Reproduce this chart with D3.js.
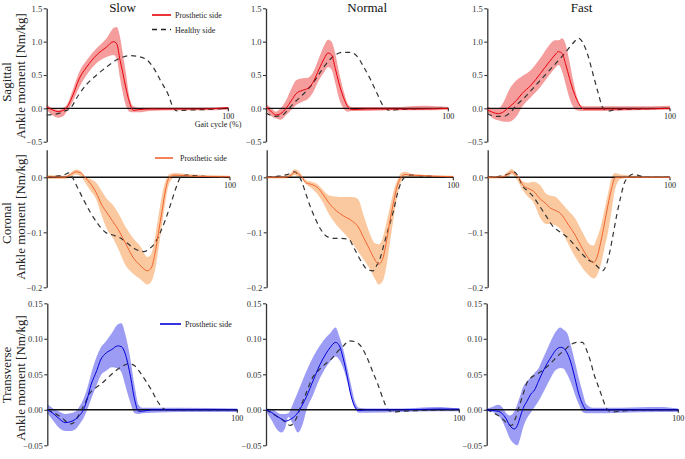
<!DOCTYPE html>
<html><head><meta charset="utf-8">
<script src="https://cdn.jsdelivr.net/npm/d3@7"></script>
<style>body{margin:0;background:#fff}svg{display:block}text{font-family:"Liberation Serif","Times New Roman",serif}</style>
</head><body><svg id="c" width="685" height="459"></svg>
<script>
// ---------- labels ----------
const speeds = ["Slow", "Normal", "Fast"];
const planes = ["Sagittal", "Coronal", "Transverse"];
const yLabel = "Ankle moment [Nm/kg]";
const ticksSag = [1.5, 1.0, 0.5, 0.0, -0.5];
const ticksCor = [0.0, -0.1, -0.2];
const ticksTra = [0.15, 0.10, 0.05, 0.00, -0.05];

// ---------- Sagittal / Slow ----------
const sagSlowX    = [0, 3, 6.5, 9, 11, 14, 18, 22, 27.5, 33, 36.7, 38.5, 40.4, 42, 43.5, 45.5, 47.7, 50.5, 57, 70, 85, 100];
const sagSlowMean = [0.02, -0.02, -0.05, -0.03, 0.01, 0.17, 0.45, 0.62, 0.80, 0.92, 1.0, 0.97, 0.72, 0.52, 0.32, 0.10, -0.03, -0.02, -0.01, -0.01, -0.01, 0.01];
const sagSlowHi   = [0.06, 0.0, -0.02, 0.01, 0.05, 0.25, 0.55, 0.72, 0.90, 1.05, 1.2, 1.22, 1.07, 0.8, 0.55, 0.18, 0.03, 0.01, 0.01, 0.01, 0.01, 0.02];
const sagSlowLo   = [-0.02, -0.1, -0.14, -0.12, -0.05, 0.08, 0.32, 0.5, 0.68, 0.77, 0.8, 0.75, 0.45, 0.22, 0.05, -0.05, -0.06, -0.06, -0.04, -0.03, -0.03, -0.02];
const sagSlowHX   = [0, 6, 10, 13, 17.5, 22, 27.5, 33, 38, 42, 46, 50, 55, 59, 63, 67, 69.5, 72, 75, 85, 100];
const sagSlowH    = [-0.1, -0.08, -0.04, 0.0, 0.2, 0.36, 0.5, 0.62, 0.72, 0.77, 0.79, 0.78, 0.73, 0.6, 0.4, 0.2, 0.02, -0.04, -0.03, -0.02, 0.0];

// ---------- Sagittal / Normal ----------
const sagNormX    = [0, 3, 5.3, 8, 11, 14, 16.5, 20, 23, 26, 29, 32, 34, 36, 38, 40, 43, 45, 47, 55, 70, 85, 100];
const sagNormMean = [0.02, -0.05, -0.1, -0.08, 0.0, 0.12, 0.22, 0.27, 0.3, 0.4, 0.58, 0.75, 0.83, 0.8, 0.6, 0.38, 0.13, 0.02, -0.02, -0.01, -0.01, -0.01, 0.0];
const sagNormHi   = [0.07, 0.0, -0.05, 0.0, 0.12, 0.3, 0.42, 0.45, 0.46, 0.55, 0.75, 0.95, 1.03, 1.0, 0.82, 0.55, 0.22, 0.06, 0.02, 0.02, 0.02, 0.04, 0.02];
const sagNormLo   = [-0.03, -0.12, -0.15, -0.17, -0.1, -0.02, 0.05, 0.1, 0.14, 0.25, 0.42, 0.55, 0.62, 0.58, 0.38, 0.15, -0.02, -0.05, -0.04, -0.04, -0.03, -0.03, -0.02];
const sagNormHX   = [0, 5, 9, 12, 15, 20, 25, 30, 34, 38, 42, 46, 50, 53, 57, 61, 64, 65.5, 68, 72, 80, 100];
const sagNormH    = [-0.07, -0.12, -0.1, -0.02, 0.07, 0.2, 0.35, 0.55, 0.7, 0.8, 0.84, 0.84, 0.78, 0.65, 0.45, 0.22, 0.05, 0.0, -0.03, -0.02, -0.01, 0.0];

// ---------- Sagittal / Fast ----------
const sagFastX    = [0, 3, 6, 9, 12, 16, 19, 24, 29, 34, 37, 39, 41, 43, 45, 47, 49, 51, 53, 60, 80, 100];
const sagFastMean = [-0.02, -0.06, -0.08, -0.05, 0.02, 0.12, 0.22, 0.35, 0.52, 0.7, 0.8, 0.85, 0.82, 0.65, 0.45, 0.27, 0.13, 0.03, -0.01, -0.01, -0.01, 0.0];
const sagFastHi   = [0.03, 0.0, 0.0, 0.1, 0.28, 0.42, 0.48, 0.58, 0.75, 0.95, 1.02, 1.02, 1.05, 0.95, 0.7, 0.42, 0.18, 0.05, 0.03, 0.03, 0.03, 0.04];
const sagFastLo   = [-0.05, -0.15, -0.18, -0.2, -0.2, -0.12, 0.02, 0.17, 0.32, 0.5, 0.6, 0.65, 0.55, 0.35, 0.15, 0.02, -0.03, -0.04, -0.04, -0.04, -0.03, -0.02];
const sagFastHX   = [0, 5, 9, 13, 16, 20, 25, 30, 35, 40, 44, 47, 50, 52, 55, 58, 61, 63, 66, 70, 80, 100];
const sagFastH    = [-0.08, -0.12, -0.12, -0.05, 0.05, 0.15, 0.3, 0.45, 0.6, 0.75, 0.88, 0.98, 1.05, 1.0, 0.8, 0.5, 0.2, 0.02, -0.04, -0.02, -0.01, 0.0];

// ---------- Coronal / Slow ----------
const corSlowX    = [0, 10, 13, 16, 19, 21, 24, 27, 30, 33, 36, 39, 43, 47, 51, 55, 57, 59, 61, 63, 65, 67, 70, 80, 100];
const corSlowMean = [0.001, 0.0, 0.005, 0.01, 0.007, 0.0, -0.012, -0.028, -0.05, -0.065, -0.08, -0.095, -0.12, -0.145, -0.16, -0.17, -0.165, -0.14, -0.1, -0.06, -0.02, 0.0, 0.004, 0.002, 0.001];
const corSlowHi   = [0.004, 0.003, 0.008, 0.014, 0.01, 0.0, -0.003, -0.01, -0.025, -0.04, -0.05, -0.065, -0.09, -0.11, -0.125, -0.145, -0.14, -0.11, -0.07, -0.03, -0.005, 0.006, 0.008, 0.005, 0.003];
const corSlowLo   = [-0.003, -0.003, 0.0, 0.005, 0.0, -0.01, -0.025, -0.04, -0.07, -0.095, -0.11, -0.13, -0.16, -0.175, -0.185, -0.195, -0.19, -0.17, -0.13, -0.085, -0.04, -0.01, 0.0, 0.0, -0.002];
const corSlowHX   = [0, 5, 10, 12, 14, 17, 20, 24, 28, 32, 36, 40, 44, 48, 53, 56, 59, 62, 65, 68, 71, 73, 76, 80, 90, 100];
const corSlowH    = [0.0, 0.002, 0.005, 0.008, 0.0, -0.02, -0.04, -0.065, -0.085, -0.1, -0.105, -0.11, -0.12, -0.13, -0.135, -0.13, -0.12, -0.1, -0.075, -0.045, -0.015, 0.0, 0.004, 0.003, 0.001, 0.0];

// ---------- Coronal / Normal ----------
const corNormX    = [0, 10, 13, 15, 17, 19, 21, 24, 27, 30, 33, 37, 41, 46, 49, 52, 55, 58, 60, 62, 64, 66, 68, 70, 72, 74, 78, 100];
const corNormMean = [0.0, 0.0, 0.004, 0.009, 0.006, 0.0, -0.01, -0.013, -0.018, -0.03, -0.045, -0.06, -0.07, -0.08, -0.09, -0.11, -0.13, -0.15, -0.158, -0.15, -0.12, -0.08, -0.045, -0.015, 0.0, 0.005, 0.004, 0.001];
const corNormHi   = [0.002, 0.003, 0.008, 0.015, 0.012, 0.003, -0.005, -0.008, -0.012, -0.022, -0.032, -0.035, -0.036, -0.036, -0.04, -0.07, -0.1, -0.12, -0.122, -0.112, -0.085, -0.055, -0.025, -0.005, 0.008, 0.01, 0.006, 0.003];
const corNormLo   = [-0.002, -0.002, 0.0, 0.004, 0.0, -0.004, -0.012, -0.02, -0.03, -0.045, -0.065, -0.085, -0.1, -0.12, -0.135, -0.15, -0.165, -0.185, -0.195, -0.19, -0.165, -0.12, -0.075, -0.035, -0.008, 0.0, 0.0, -0.001];
const corNormHX   = [0, 6, 11, 15, 17, 19, 21, 23, 26, 29, 32, 36, 40, 44, 47, 51, 54, 57, 59, 61, 63, 65.5, 68, 70, 72, 74, 77, 82, 100];
const corNormH    = [0.0, 0.002, 0.005, 0.01, 0.004, -0.01, -0.03, -0.05, -0.075, -0.095, -0.107, -0.111, -0.111, -0.113, -0.13, -0.155, -0.168, -0.17, -0.16, -0.145, -0.12, -0.09, -0.06, -0.03, -0.01, 0.0, 0.004, 0.003, 0.0];

// ---------- Coronal / Fast ----------
const corFastX    = [0, 8, 11, 13, 15, 17, 19.5, 22, 25, 29, 32, 34, 37, 40, 44, 48, 52, 56, 58, 60, 62, 64, 66, 68, 70, 73, 80, 100];
const corFastMean = [0.0, 0.001, 0.005, 0.01, 0.006, 0.0, -0.015, -0.02, -0.025, -0.04, -0.048, -0.055, -0.06, -0.066, -0.085, -0.105, -0.13, -0.15, -0.155, -0.145, -0.118, -0.085, -0.05, -0.02, 0.0, 0.0, 0.0, 0.0];
const corFastHi   = [0.002, 0.003, 0.01, 0.015, 0.01, 0.0, -0.008, -0.01, -0.008, -0.015, -0.03, -0.033, -0.035, -0.045, -0.06, -0.075, -0.1, -0.122, -0.124, -0.11, -0.09, -0.06, -0.03, 0.0, 0.008, 0.005, 0.003, 0.002];
const corFastLo   = [-0.002, -0.002, 0.0, 0.005, 0.0, -0.01, -0.025, -0.035, -0.045, -0.075, -0.085, -0.085, -0.087, -0.095, -0.12, -0.145, -0.165, -0.18, -0.184, -0.178, -0.16, -0.13, -0.1, -0.06, -0.02, -0.003, 0.0, -0.001];
const corFastHX   = [0, 7, 12, 14.5, 17, 19, 22, 25, 28, 32, 36, 40, 44, 48, 52, 55, 58, 61, 63, 65, 67, 69, 71, 73, 75, 77, 80, 83, 88, 100];
const corFastH    = [0.0, 0.002, 0.007, 0.01, 0.0, -0.015, -0.025, -0.035, -0.05, -0.07, -0.09, -0.1, -0.11, -0.125, -0.14, -0.15, -0.155, -0.165, -0.17, -0.16, -0.135, -0.1, -0.065, -0.035, -0.01, 0.0, 0.006, 0.003, 0.0, 0.0];

// ---------- Transverse / Slow ----------
const traSlowX    = [0, 3, 6, 9.5, 12, 15, 17, 19, 21, 23, 26, 28, 31, 34, 37, 39, 41, 43.5, 46, 48, 50, 55, 70, 100];
const traSlowMean = [0.0, -0.005, -0.012, -0.018, -0.017, -0.013, -0.008, 0.0, 0.015, 0.035, 0.055, 0.07, 0.08, 0.085, 0.09, 0.089, 0.079, 0.051, 0.014, -0.002, -0.002, 0.0, 0.0, 0.0];
const traSlowHi   = [0.008, 0.002, -0.002, -0.006, -0.005, -0.002, 0.005, 0.015, 0.03, 0.05, 0.075, 0.087, 0.097, 0.108, 0.12, 0.122, 0.107, 0.075, 0.033, 0.007, 0.003, 0.003, 0.003, 0.002];
const traSlowLo   = [-0.005, -0.015, -0.025, -0.03, -0.03, -0.027, -0.02, -0.012, 0.0, 0.015, 0.035, 0.048, 0.055, 0.06, 0.058, 0.053, 0.035, 0.012, -0.005, -0.006, -0.005, -0.004, -0.003, -0.003];
const traSlowHX   = [0, 4, 8, 12, 14, 16, 18, 20, 22, 25, 29, 33, 37, 40, 43, 46, 49, 52, 55, 58, 61, 63, 70, 100];
const traSlowH    = [0.0, -0.005, -0.012, -0.02, -0.018, -0.01, 0.0, 0.01, 0.022, 0.03, 0.038, 0.048, 0.057, 0.062, 0.065, 0.062, 0.052, 0.04, 0.027, 0.012, 0.002, 0.0, 0.0, 0.0];

// ---------- Transverse / Normal ----------
const traNormX    = [0, 3, 5.5, 8, 10, 11.5, 14, 16.5, 19, 21, 24.5, 28, 31, 33, 36, 38, 40, 42, 44, 46, 48, 52, 70, 88, 100];
const traNormMean = [0.0, -0.004, -0.009, -0.013, -0.016, -0.015, -0.011, -0.004, 0.008, 0.019, 0.042, 0.064, 0.079, 0.087, 0.095, 0.09, 0.072, 0.047, 0.02, 0.004, -0.001, 0.0, 0.0, 0.001, 0.001];
const traNormHi   = [0.002, 0.001, -0.003, -0.006, -0.006, -0.005, 0.009, 0.025, 0.042, 0.055, 0.075, 0.091, 0.102, 0.107, 0.116, 0.103, 0.085, 0.06, 0.035, 0.012, 0.003, 0.002, 0.002, 0.004, 0.002];
const traNormLo   = [-0.002, -0.015, -0.027, -0.032, -0.025, -0.01, -0.02, -0.032, -0.02, 0.0, 0.022, 0.045, 0.06, 0.067, 0.075, 0.07, 0.058, 0.04, 0.018, 0.002, -0.004, -0.004, -0.003, -0.002, -0.002];
const traNormHX   = [0, 5, 9, 12.5, 14.5, 16, 18, 21, 24, 27, 30, 34, 37, 40, 43, 46, 49, 52, 55, 58, 61, 63, 66, 70, 80, 100];
const traNormH    = [0.0, -0.008, -0.015, -0.022, -0.018, -0.01, 0.005, 0.025, 0.045, 0.055, 0.063, 0.072, 0.082, 0.09, 0.097, 0.096, 0.09, 0.075, 0.055, 0.035, 0.012, 0.0, -0.003, -0.002, -0.001, 0.0];

// ---------- Transverse / Fast ----------
const traFastX    = [0, 3, 6, 8, 10, 12, 14.5, 16, 17.5, 19, 21, 23, 25, 27, 29, 31.5, 34, 36, 38.5, 40, 42, 44, 46, 48, 50, 52, 55, 70, 90, 100];
const traFastMean = [0.0, -0.001, -0.002, -0.005, -0.012, -0.022, -0.027, -0.022, -0.01, 0.002, 0.012, 0.022, 0.028, 0.04, 0.052, 0.065, 0.076, 0.084, 0.088, 0.087, 0.08, 0.066, 0.045, 0.023, 0.008, 0.0, 0.0, 0.0, 0.0, 0.0];
const traFastHi   = [0.002, 0.004, 0.007, 0.004, -0.004, -0.008, -0.002, 0.008, 0.02, 0.032, 0.04, 0.046, 0.052, 0.058, 0.07, 0.085, 0.1, 0.11, 0.116, 0.113, 0.108, 0.09, 0.068, 0.045, 0.025, 0.008, 0.003, 0.003, 0.004, 0.002];
const traFastLo   = [-0.002, -0.003, -0.008, -0.015, -0.027, -0.04, -0.048, -0.05, -0.04, -0.025, -0.012, -0.004, 0.004, 0.012, 0.022, 0.035, 0.048, 0.056, 0.059, 0.058, 0.05, 0.038, 0.022, 0.008, -0.003, -0.005, -0.005, -0.004, -0.003, -0.003];
const traFastHX   = [0, 4, 8, 11, 13, 15, 17, 19, 21, 23, 26, 29, 32, 35, 38, 41, 44, 47, 50, 52, 54, 56, 58, 60, 62, 64, 66, 70, 80, 100];
const traFastH    = [0.0, -0.005, -0.012, -0.02, -0.022, -0.012, 0.005, 0.022, 0.038, 0.045, 0.05, 0.055, 0.062, 0.07, 0.078, 0.085, 0.092, 0.095, 0.095, 0.085, 0.07, 0.05, 0.035, 0.02, 0.005, -0.002, -0.003, -0.002, 0.0, 0.0];

// ---------- layout ----------
const rowsCfg = [
  {domain: [-0.5, 1.5], range: [141.7, 8.3], ticks: ticksSag, fmt: d3.format(".1f"),
   band: "#f59c9c", line: "#e8000b", labelY: [82, 76], xr: [[46.7, 228.3], [266, 448.3], [487.3, 670]]},
  {domain: [-0.2, 0.05], range: [287.3, 149.8], ticks: ticksCor, fmt: d3.format(".1f"),
   band: "#fbc9a0", line: "#f26430", labelY: [223, 217], xr: [[46.7, 230], [266.7, 453.3], [487.7, 670]]},
  {domain: [-0.05, 0.15], range: [445.3, 303.3], ticks: ticksTra, fmt: d3.format(".2f"),
   band: "#9c9cf5", line: "#0000d8", labelY: [375, 378], xr: [[47.3, 237.3], [266, 459.3], [486.7, 678.3]]}
];
const panelData = [
  [[sagSlowX, sagSlowMean, sagSlowLo, sagSlowHi, sagSlowHX, sagSlowH],
   [sagNormX, sagNormMean, sagNormLo, sagNormHi, sagNormHX, sagNormH],
   [sagFastX, sagFastMean, sagFastLo, sagFastHi, sagFastHX, sagFastH]],
  [[corSlowX, corSlowMean, corSlowLo, corSlowHi, corSlowHX, corSlowH],
   [corNormX, corNormMean, corNormLo, corNormHi, corNormHX, corNormH],
   [corFastX, corFastMean, corFastLo, corFastHi, corFastHX, corFastH]],
  [[traSlowX, traSlowMean, traSlowLo, traSlowHi, traSlowHX, traSlowH],
   [traNormX, traNormMean, traNormLo, traNormHi, traNormHX, traNormH],
   [traFastX, traFastMean, traFastLo, traFastHi, traFastHX, traFastH]]
];

const svg = d3.select("#c");
const axisCol = "#333";

rowsCfg.forEach((rc, r) => {
  const y = d3.scaleLinear().domain(rc.domain).range(rc.range);
  // y labels (row)
  const g0 = svg.append("g");
  g0.append("text").attr("transform", `translate(11,${rc.labelY[0]}) rotate(-90)`)
    .attr("text-anchor", "middle").attr("font-size", 13).attr("fill", "#222").text(planes[r]);
  g0.append("text").attr("transform", `translate(24.5,${rc.labelY[1]}) rotate(-90)`)
    .attr("text-anchor", "middle").attr("font-size", 13).attr("fill", "#222").text(yLabel);

  rc.xr.forEach((xr, c) => {
    const [px, pm, plo, phi, hx, hy] = panelData[r][c];
    const x = d3.scaleLinear().domain([0, 100]).range(xr);
    const g = svg.append("g");
    const bandPts = px.map((v, i) => ({x: v, lo: plo[i], hi: phi[i]}));
    const meanPts = px.map((v, i) => ({x: v, y: pm[i]}));
    const hPts = hx.map((v, i) => ({x: v, y: hy[i]}));

    g.append("path").datum(bandPts)
      .attr("d", d3.area().curve(d3.curveMonotoneX).x(d => x(d.x)).y0(d => y(d.lo)).y1(d => y(d.hi)))
      .attr("fill", rc.band).attr("stroke", "none");

    // y axis
    const ax = g.append("g").attr("transform", `translate(${xr[0]},0)`)
      .call(d3.axisLeft(y).tickValues(rc.ticks).tickFormat(rc.fmt).tickSize(3).tickSizeOuter(0));
    ax.select(".domain").attr("stroke", axisCol).attr("stroke-width", 1.3);
    ax.selectAll(".tick line").attr("stroke", axisCol).attr("stroke-width", 1.1);
    ax.selectAll(".tick text").attr("font-family", "Liberation Serif, serif").attr("font-size", 8.5)
      .attr("fill", "#333").attr("x", -4.5);

    // zero line + end tick + label
    g.append("line").attr("x1", xr[0]).attr("x2", xr[1]).attr("y1", y(0)).attr("y2", y(0))
      .attr("stroke", "#111").attr("stroke-width", 1.4);
    g.append("line").attr("x1", xr[1]).attr("x2", xr[1]).attr("y1", y(0)).attr("y2", y(0) + 3)
      .attr("stroke", "#111").attr("stroke-width", 1);
    g.append("text").attr("x", xr[1]).attr("y", y(0) + 11).attr("text-anchor", "middle")
      .attr("font-size", 8).attr("fill", "#222").text("100");

    // healthy dashed
    g.append("path").datum(hPts)
      .attr("d", d3.line().curve(d3.curveMonotoneX).x(d => x(d.x)).y(d => y(d.y)))
      .attr("fill", "none").attr("stroke", "#333").attr("stroke-width", 1.2).attr("stroke-dasharray", "5,4");
    // prosthetic mean
    g.append("path").datum(meanPts)
      .attr("d", d3.line().curve(d3.curveMonotoneX).x(d => x(d.x)).y(d => y(d.y)))
      .attr("fill", "none").attr("stroke", rc.line).attr("stroke-width", 1);

    if (r === 0) {
      svg.append("text").attr("x", (xr[0] + xr[1]) / 2 + academicOffset(c)).attr("y", 12)
        .attr("text-anchor", "middle").attr("font-size", 13).attr("fill", "#111").text(speeds[c]);
    }
  });
});
function academicOffset(c) { return [-15, 10, 3][c]; }

// x label on first panel
svg.append("text").attr("x", 218).attr("y", 127).attr("text-anchor", "middle")
  .attr("font-size", 8).attr("fill", "#222").text("Gait cycle (%)");

// legends
function legend(x1, x2, yy, color, dashed, label, tx) {
  svg.append("line").attr("x1", x1).attr("x2", x2).attr("y1", yy).attr("y2", yy)
    .attr("stroke", color).attr("stroke-width", dashed ? 1.3 : 1.6)
    .attr("stroke-dasharray", dashed ? "5,4" : null);
  svg.append("text").attr("x", tx).attr("y", yy + 3).attr("font-size", 8).attr("fill", "#222").text(label);
}
legend(152, 171, 15, "#e8000b", false, "Prosthetic side", 175);
legend(152, 171, 29.5, "#222", true, "Healthy side", 175);
legend(155, 173, 158, "#f26430", false, "Prosthetic side", 180);
legend(160, 181, 324, "#0000d8", false, "Prosthetic side", 185);
</script></body></html>
